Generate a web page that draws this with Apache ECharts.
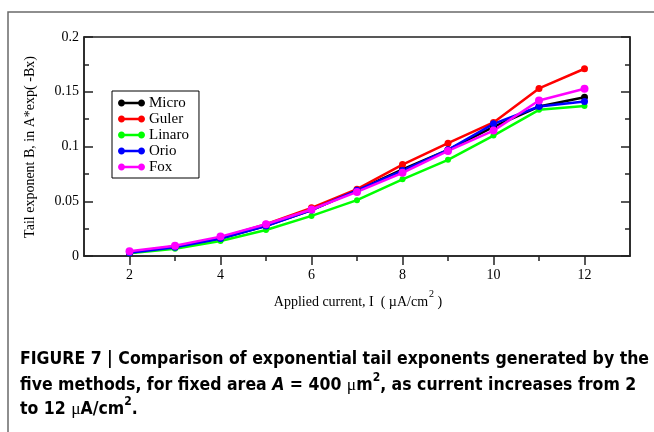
<!DOCTYPE html>
<html>
<head>
<meta charset="utf-8">
<script src="https://cdn.jsdelivr.net/npm/echarts@6/dist/echarts.min.js"></script>
<style>
  html, body { margin: 0; padding: 0; background: #fff; }
  #chart { width: 654px; height: 432px; }
</style>
</head>
<body>
<div id="chart"></div>
<script>
// Applied current (uA/cm^2) and fitted tail exponent B for each method
const currents = [2, 3, 4, 5, 6, 7, 8, 9, 10, 11, 12];
const micro  = [0.0030, 0.0080, 0.0160, 0.0275, 0.0420, 0.0600, 0.0790, 0.0970, 0.1180, 0.1365, 0.1450];
const guler  = [0.0035, 0.0088, 0.0168, 0.0290, 0.0440, 0.0610, 0.0835, 0.1030, 0.1220, 0.1530, 0.1710];
const linaro = [0.0025, 0.0067, 0.0137, 0.0238, 0.0366, 0.0510, 0.0700, 0.0878, 0.1100, 0.1335, 0.1370];
const orio   = [0.0030, 0.0080, 0.0160, 0.0274, 0.0420, 0.0600, 0.0780, 0.0970, 0.1207, 0.1365, 0.1410];
const fox    = [0.0043, 0.0094, 0.0177, 0.0290, 0.0425, 0.0585, 0.0760, 0.0960, 0.1145, 0.1420, 0.1527];

const majorXTicks = [2, 4, 6, 8, 10, 12];
const minorXTicks = [3, 5, 7, 9, 11];

const methods = [
  { name: 'Micro',  data: micro,  color: '#000000' },
  { name: 'Guler',  data: guler,  color: '#ff0000' },
  { name: 'Linaro', data: linaro, color: '#00ff00' },
  { name: 'Orio',   data: orio,   color: '#0000ff' },
  { name: 'Fox',    data: fox,    color: '#ff00ff' }
];

const serif = "'Liberation Serif', 'Times New Roman', serif";
const narrow = "'DejaVu Sans Condensed', 'Liberation Sans', sans-serif";
const axisColor = '#222';

// legend glyph: a short line with a filled dot at each end (polygon dots, one winding)
function dotPath(cx, cy, r) {
  let d = '';
  for (let k = 0; k < 16; k++) {
    const t = (k / 16) * Math.PI * 2;
    const px = (cx + r * Math.cos(t)).toFixed(3);
    const py = (cy + r * Math.sin(t)).toFixed(3);
    d += (k === 0 ? 'M' : 'L') + px + ',' + py + ' ';
  }
  return d + 'Z ';
}
const legendIcon = 'path://' + dotPath(3.5, 3.5, 3.5) + dotPath(23.5, 3.5, 3.5) +
  'M3.5,2.2 L23.5,2.2 L23.5,4.8 L3.5,4.8 Z';

const chart = echarts.init(document.getElementById('chart'), null, { renderer: 'canvas' });

const capB = { font: 'bold 17.5px ' + narrow, fill: '#000', lineHeight: 22, verticalAlign: 'bottom' };
const capI = { font: 'italic bold 17.5px ' + narrow, fill: '#000', lineHeight: 22, verticalAlign: 'bottom' };
const capMu = { font: '17.5px ' + serif, fill: '#000', lineHeight: 22, verticalAlign: 'bottom' };
const capSup = { font: 'bold 12px ' + narrow, fill: '#000', lineHeight: 12, verticalAlign: 'top' };

chart.setOption({
  animation: false,
  backgroundColor: '#fff',
  grid: {
    left: 84, right: 24, top: 37, bottom: 176,
    show: true, borderColor: axisColor, borderWidth: 1.5
  },
  legend: {
    left: 112, top: 91,
    orient: 'vertical',
    padding: [4, 10, 3, 6],
    itemGap: 0,
    itemWidth: 27,
    itemHeight: 7,
    backgroundColor: '#fff',
    borderColor: '#000',
    borderWidth: 1,
    icon: legendIcon,
    textStyle: { fontFamily: serif, fontSize: 15, color: '#000', lineHeight: 16, padding: [0, 0, 0, -1] },
    data: methods.map(m => ({
      name: m.name,
      itemStyle: { color: m.color, borderWidth: 0 }
    }))
  },
  xAxis: [
    {
      type: 'value', min: 1, max: 13, position: 'bottom',
      axisLine: { show: true, onZero: false, lineStyle: { color: axisColor, width: 1.5 } },
      axisTick: { show: true, inside: false, length: 9, customValues: majorXTicks, lineStyle: { color: axisColor, width: 1.5 } },
      axisLabel: { customValues: majorXTicks, margin: 12, fontFamily: serif, fontSize: 14, color: '#000' },
      splitLine: { show: false }
    },
    {
      type: 'value', min: 1, max: 13, position: 'bottom',
      axisLine: { show: false, onZero: false },
      axisTick: { show: true, inside: false, length: 5, customValues: minorXTicks, lineStyle: { color: axisColor, width: 1.5 } },
      axisLabel: { show: false },
      splitLine: { show: false }
    }
  ],
  yAxis: [
    {
      type: 'value', min: 0, max: 0.2, interval: 0.05, position: 'left',
      axisLine: { show: true, onZero: false, lineStyle: { color: axisColor, width: 1.5 } },
      axisTick: { show: true, inside: true, length: 9, lineStyle: { color: axisColor, width: 1.5 } },
      minorTick: { show: true, splitNumber: 2, length: 5, lineStyle: { color: axisColor, width: 1.5 } },
      axisLabel: { margin: 5, fontFamily: serif, fontSize: 14, color: '#000' },
      splitLine: { show: false }
    },
    {
      type: 'value', min: 0, max: 0.2, interval: 0.05, position: 'right',
      axisLine: { show: true, onZero: false, lineStyle: { color: axisColor, width: 1.5 } },
      axisTick: { show: true, inside: true, length: 9, lineStyle: { color: axisColor, width: 1.5 } },
      minorTick: { show: true, splitNumber: 2, length: 5, lineStyle: { color: axisColor, width: 1.5 } },
      axisLabel: { show: false },
      splitLine: { show: false }
    }
  ],
  series: methods.map(m => ({
    name: m.name,
    type: 'line',
    xAxisIndex: 0,
    yAxisIndex: 0,
    data: currents.map((c, i) => [c, m.data[i]]),
    color: m.color,
    symbol: 'circle',
    symbolSize: m.name === 'Linaro' ? 6 : (m.name === 'Fox' ? 8 : 7),
    lineStyle: { width: 2.5, color: m.color },
    itemStyle: { color: m.color }
  })),
  graphic: [
    // figure frame
    {
      type: 'rect', shape: { x: 8, y: 12, width: 700, height: 500 },
      style: { fill: 'none', stroke: '#6a6a6a', lineWidth: 1.5 }, silent: true, z: -10
    },
    // y axis title
    {
      type: 'text', x: 30, y: 147, rotation: Math.PI / 2,
      style: {
        text: 'Tail exponent B, in A*exp( -Bx)',
        font: '14px ' + serif, fill: '#000',
        align: 'center', verticalAlign: 'middle'
      }
    },
    // x axis title
    {
      type: 'text', x: 358, y: 298,
      style: {
        text: '{t|Applied current, I  ( \u00b5A/cm}{s|2}{t| )}',
        align: 'center', verticalAlign: 'middle',
        rich: {
          t: { font: '14px ' + serif, fill: '#000', verticalAlign: 'bottom', height: 16 },
          s: { font: '10px ' + serif, fill: '#000', verticalAlign: 'top', padding: [0, 0, 8, 1], height: 16 }
        }
      }
    },
    // caption
    {
      type: 'text', x: 20, y: 359,
      style: {
        text: 'FIGURE 7 | Comparison of exponential tail exponents generated by the',
        font: 'bold 17.5px ' + narrow, fill: '#000', verticalAlign: 'middle'
      }
    },
    {
      type: 'text', x: 20, y: 383,
      style: {
        text: '{b|five methods, for fixed area }{i|A}{b| = 400 }{m|\u03bc}{b|m}{s|2}{b|, as current increases from 2}',
        verticalAlign: 'middle',
        rich: { b: capB, i: capI, m: capMu, s: capSup }
      }
    },
    {
      type: 'text', x: 20, y: 407,
      style: {
        text: '{b|to 12 }{m|\u03bc}{b|A/cm}{s|2}{b|.}',
        verticalAlign: 'middle',
        rich: { b: capB, m: capMu, s: capSup }
      }
    }
  ]
});
</script>
</body>
</html>
